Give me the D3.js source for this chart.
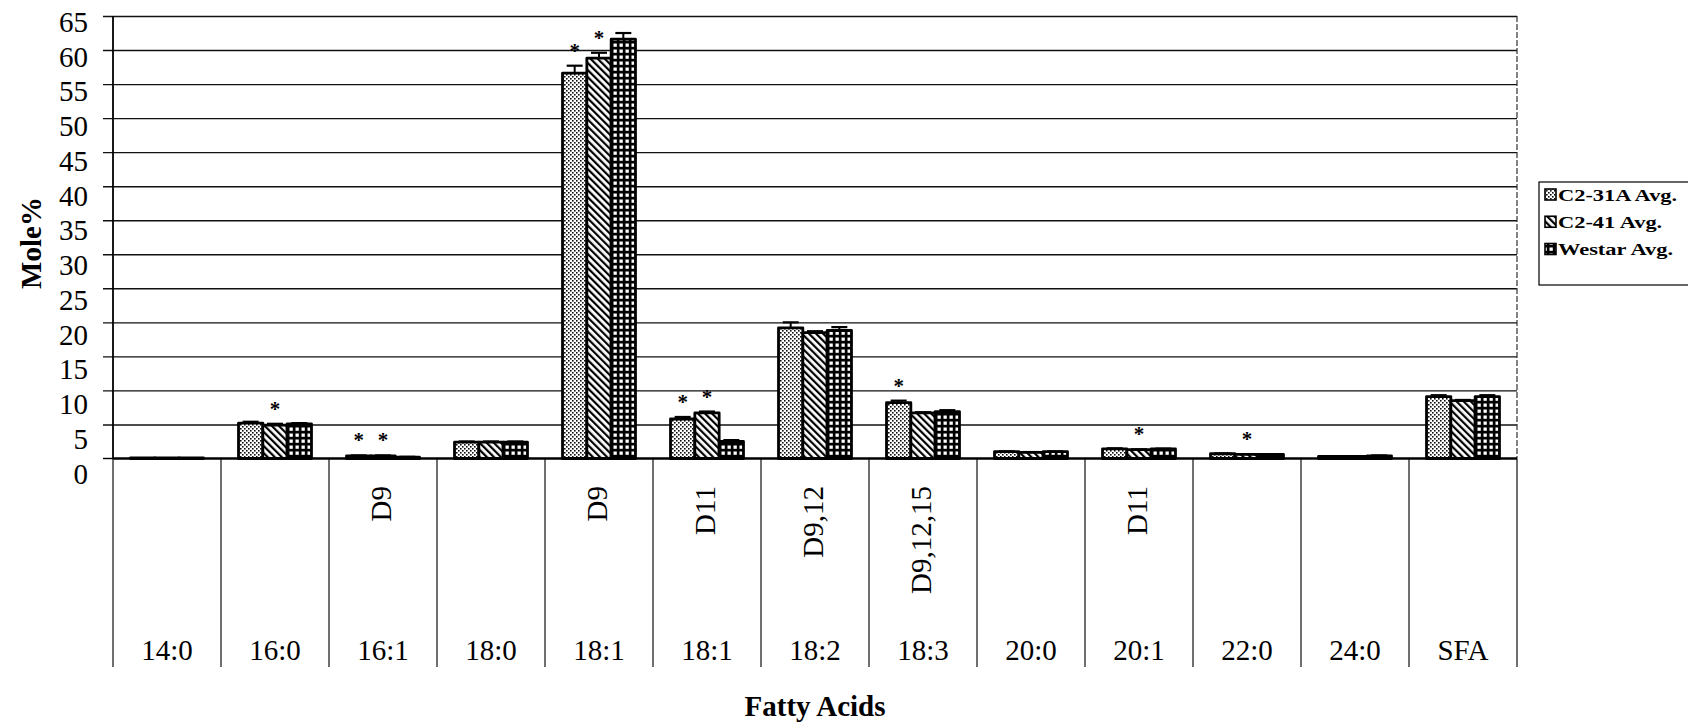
<!DOCTYPE html>
<html>
<head>
<meta charset="utf-8">
<script src="https://cdn.jsdelivr.net/npm/d3@7/dist/d3.min.js"></script>
<style>
  html, body { margin: 0; padding: 0; background: #fff; }
  svg { display: block; }
  text { font-family: "Liberation Serif", "Times New Roman", serif; fill: #000; }
</style>
</head>
<body>
<svg id="chart" width="1688" height="725"></svg>
<script>
// Fatty acid composition (mole %) of seed oil, three lines
const categories = ["14:0", "16:0", "16:1", "18:0", "18:1", "18:1", "18:2", "18:3", "20:0", "20:1", "22:0", "24:0", "SFA"];
const bondLabels = ["", "", "D9", "", "D9", "D11", "D9,12", "D9,12,15", "", "D11", "", "", ""];
const seriesNames = ["C2-31A Avg.", "C2-41 Avg.", "Westar Avg."];

const c231A  = [0.1, 5.2, 0.4, 2.4, 56.6, 5.8, 19.2, 8.2, 1.0, 1.4, 0.7, 0.3, 9.1];
const c241   = [0.1, 4.9, 0.4, 2.4, 58.8, 6.7, 18.5, 6.7, 0.9, 1.3, 0.6, 0.3, 8.5];
const westar = [0.1, 5.1, 0.2, 2.4, 61.6, 2.5, 18.8, 6.9, 1.0, 1.4, 0.6, 0.4, 9.1];

const err231A  = [0, 0.2, 0.05, 0.1, 1.1, 0.3, 0.8, 0.3, 0.05, 0.1, 0.05, 0.05, 0.2];
const err241   = [0, 0.2, 0.05, 0.1, 0.8, 0.2, 0.2, 0.1, 0.05, 0.05, 0.05, 0.05, 0.1];
const errWestar = [0, 0.1, 0.05, 0.1, 0.9, 0.2, 0.5, 0.2, 0.05, 0.05, 0.05, 0.05, 0.2];

// significant difference from Westar (category indices)
const sig231A = [2, 4, 5, 7];
const sig241  = [1, 2, 4, 5, 9, 10];

const yTicks = d3.range(0, 66, 5);

const values = [c231A, c241, westar];
const errors = [err231A, err241, errWestar];
const sigs = [sig231A, sig241, []];
const patterns = ["stipple", "hatch", "grid"];

const svg = d3.select("#chart");
const plotLeft = 113, plotRight = 1517, plotTop = 16, plotBottom = 458.5, sepBottom = 667;

// fill patterns
const defs = svg.append("defs");
const pStip = defs.append("pattern").attr("id", "stipple").attr("patternUnits", "userSpaceOnUse")
  .attr("width", 4).attr("height", 4);
pStip.append("rect").attr("width", 4).attr("height", 4).attr("fill", "#fff");
pStip.append("rect").attr("x", 0).attr("y", 0).attr("width", 1.6).attr("height", 1.6).attr("fill", "#111");
pStip.append("rect").attr("x", 2).attr("y", 2).attr("width", 1.6).attr("height", 1.6).attr("fill", "#111");

const pHatch = defs.append("pattern").attr("id", "hatch").attr("patternUnits", "userSpaceOnUse")
  .attr("width", 5).attr("height", 5).attr("patternTransform", "rotate(-45)");
pHatch.append("rect").attr("width", 5).attr("height", 5).attr("fill", "#fff");
pHatch.append("rect").attr("x", 0).attr("y", 0).attr("width", 2.2).attr("height", 5).attr("fill", "#000");

const pGrid = defs.append("pattern").attr("id", "grid").attr("patternUnits", "userSpaceOnUse")
  .attr("width", 6).attr("height", 6);
pGrid.append("rect").attr("width", 6).attr("height", 6).attr("fill", "#000");
pGrid.append("rect").attr("x", 1.5).attr("y", 1.5).attr("width", 3.3).attr("height", 3.3).attr("fill", "#fff");

// scales
const x = d3.scaleBand().domain(d3.range(categories.length)).range([plotLeft, plotRight]).paddingInner(0).paddingOuter(0);
const xs = d3.scaleBand().domain(d3.range(seriesNames.length)).range([0, x.bandwidth()]).paddingInner(0).paddingOuter(0.72);
const y = d3.scaleLinear().domain([0, 65]).range([plotBottom, plotTop]);
const yLabel = d3.scaleLinear().domain([0, 65]).range([474, 22]);

// gridlines with outward tick marks
const gridAxis = svg.append("g").attr("transform", `translate(${plotRight},0)`)
  .call(d3.axisLeft(y).tickValues(yTicks.slice(1)).tickSize(plotRight - plotLeft + 10).tickFormat(""));
gridAxis.select(".domain").remove();
gridAxis.selectAll(".tick line").attr("stroke", "#111").attr("stroke-width", 1.4);

// tick labels
const labAxis = svg.append("g").attr("transform", "translate(88,0)")
  .call(d3.axisLeft(yLabel).tickValues(yTicks).tickSize(0).tickPadding(0));
labAxis.select(".domain").remove();
labAxis.selectAll("text").attr("font-size", 29).attr("font-family", "Liberation Serif, Times New Roman, serif");

// right plot border
svg.append("line").attr("x1", plotRight).attr("x2", plotRight).attr("y1", plotTop).attr("y2", plotBottom)
  .attr("stroke", "#333").attr("stroke-width", 1.2).attr("stroke-dasharray", "6,2");

// category separators below the axis
svg.append("g").selectAll("line").data(d3.range(categories.length + 1)).join("line")
  .attr("x1", i => plotLeft + i * x.step()).attr("x2", i => plotLeft + i * x.step())
  .attr("y1", plotBottom).attr("y2", sepBottom)
  .attr("stroke", "#222").attr("stroke-width", 1.3);

// y axis line
svg.append("line").attr("x1", plotLeft).attr("x2", plotLeft).attr("y1", plotTop).attr("y2", plotBottom)
  .attr("stroke", "#000").attr("stroke-width", 1.8);
svg.append("line").attr("x1", 103).attr("x2", plotLeft).attr("y1", plotBottom).attr("y2", plotBottom)
  .attr("stroke", "#000").attr("stroke-width", 1.4);

// bars
const barG = svg.append("g");
values.forEach((vals, s) => {
  barG.append("g").selectAll("rect").data(vals).join("rect")
    .attr("x", (d, i) => x(i) + xs(s))
    .attr("y", d => y(d))
    .attr("width", xs.bandwidth())
    .attr("height", d => y(0) - y(d))
    .attr("fill", `url(#${patterns[s]})`)
    .attr("stroke", "#000").attr("stroke-width", 2.8)
    .attr("stroke-linejoin", "round");
});

// error bars
values.forEach((vals, s) => {
  const g = barG.append("g");
  vals.forEach((v, i) => {
    const e = errors[s][i];
    if (!e) return;
    const cx = x(i) + xs(s) + xs.bandwidth() / 2;
    g.append("line").attr("x1", cx).attr("x2", cx).attr("y1", y(v)).attr("y2", y(v + e))
      .attr("stroke", "#000").attr("stroke-width", 2);
    g.append("line").attr("x1", cx - 8).attr("x2", cx + 8).attr("y1", y(v + e)).attr("y2", y(v + e))
      .attr("stroke", "#000").attr("stroke-width", 2.2);
  });
});

// x axis line
svg.append("line").attr("x1", plotLeft).attr("x2", plotRight).attr("y1", plotBottom).attr("y2", plotBottom)
  .attr("stroke", "#000").attr("stroke-width", 2.6);

// significance asterisks
sigs.forEach((list, s) => {
  list.forEach(i => {
    const cx = x(i) + xs(s) + xs.bandwidth() / 2;
    const cy = y(values[s][i] + errors[s][i]) - 17;
    svg.append("text").attr("x", cx).attr("y", cy + 9)
      .attr("text-anchor", "middle").attr("font-size", 21).attr("font-weight", "bold").text("*");
  });
});

// category labels
svg.append("g").selectAll("text").data(categories).join("text")
  .attr("x", (d, i) => x(i) + x.bandwidth() / 2)
  .attr("y", 660)
  .attr("text-anchor", "middle").attr("font-size", 29)
  .text(d => d);

// double-bond position labels
svg.append("g").selectAll("text").data(bondLabels).join("text")
  .attr("transform", (d, i) => `translate(${x(i) + x.bandwidth() / 2 + 8},486) rotate(-90)`)
  .attr("text-anchor", "end").attr("font-size", 29)
  .text(d => d);

// axis titles
svg.append("text").attr("transform", "translate(41,243) rotate(-90)")
  .attr("text-anchor", "middle").attr("font-size", 29).attr("font-weight", "bold").text("Mole%");
svg.append("text").attr("x", (plotLeft + plotRight) / 2).attr("y", 716)
  .attr("text-anchor", "middle").attr("font-size", 29).attr("font-weight", "bold").text("Fatty Acids");

// legend
const lg = svg.append("g");
lg.append("rect").attr("x", 1539).attr("y", 182).attr("width", 160).attr("height", 103)
  .attr("fill", "#fff").attr("stroke", "#000").attr("stroke-width", 1.2);
const rowY = d3.scalePoint().domain(d3.range(seriesNames.length)).range([194.5, 249]);
seriesNames.forEach((name, s) => {
  const cy = rowY(s);
  lg.append("rect").attr("x", 1545).attr("y", cy - 5.5).attr("width", 11).attr("height", 11)
    .attr("fill", `url(#${patterns[s]})`).attr("stroke", "#000").attr("stroke-width", 1.6);
  lg.append("text").attr("transform", `translate(1558,${cy + 6}) scale(1.32,1)`)
    .attr("font-size", 17).attr("font-weight", "bold").text(name);
});
</script>
</body>
</html>
